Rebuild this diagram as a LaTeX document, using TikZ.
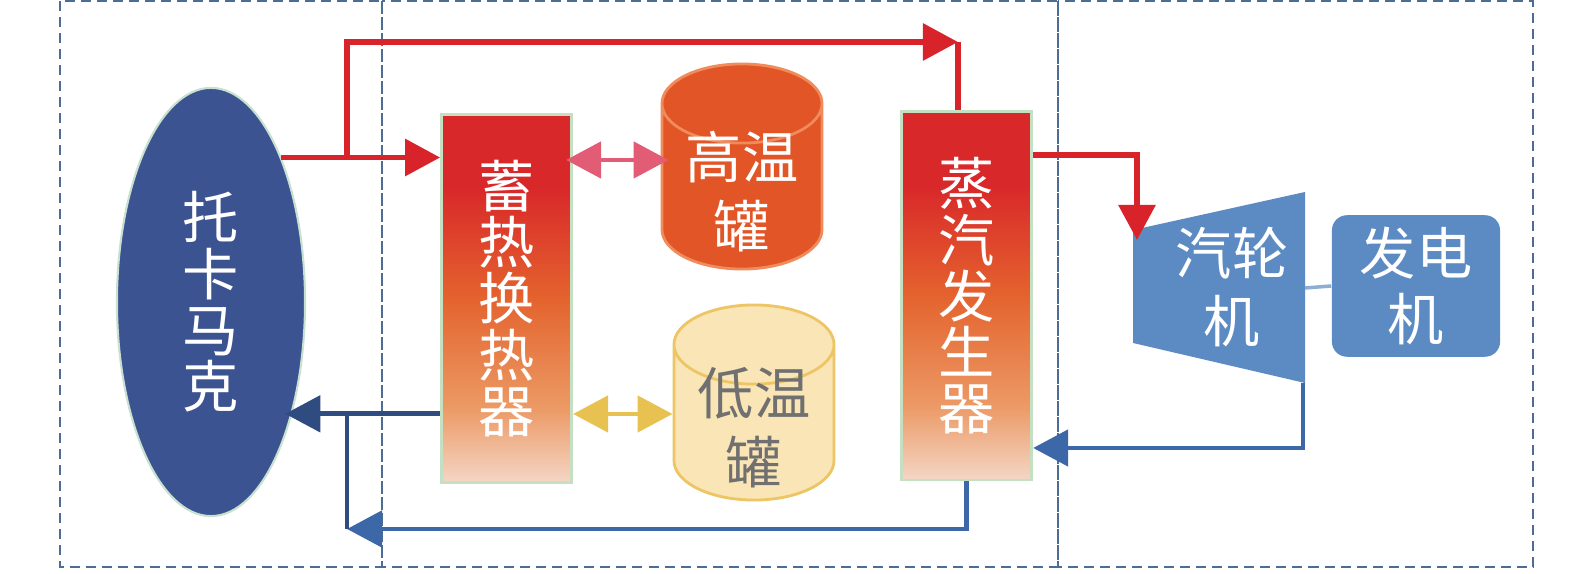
\documentclass[tikz,border=0pt]{standalone}
\usepackage{fontspec}
\setmainfont{Noto Sans CJK SC}
\usetikzlibrary{positioning,shapes.geometric,arrows.meta}
\definecolor{boxcol}{HTML}{4D6E94}
\definecolor{tokcol}{HTML}{3B5391}
\definecolor{tokedge}{HTML}{C8E0D0}
\definecolor{hotred}{HTML}{D8232A}
\definecolor{pinkcol}{HTML}{E35C75}
\definecolor{yellowcol}{HTML}{E8C250}
\definecolor{darkblue}{HTML}{2F4C80}
\definecolor{loopblue}{HTML}{3D68A8}
\definecolor{turbcol}{HTML}{5B8BC2}
\definecolor{hotfill}{HTML}{E25526}
\definecolor{hotedge}{HTML}{F08B5C}
\definecolor{coldfill}{HTML}{F9E5B5}
\definecolor{coldedge}{HTML}{EDC565}
\definecolor{coldtext}{HTML}{707070}
\definecolor{hxline}{HTML}{C5DFC2}
\definecolor{hxred}{HTML}{D9282A}
\definecolor{hxorange}{HTML}{E4632E}
\definecolor{hxpale}{HTML}{EC9A66}
\definecolor{hxlow}{HTML}{F4D6C6}
\pgfdeclareverticalshading{heatgrad}{100bp}{color(0bp)=(hxlow); color(25bp)=(hxlow); color(35bp)=(hxpale); color(50bp)=(hxorange); color(65bp)=(hxred); color(100bp)=(hxred)}

\begin{document}
\begin{tikzpicture}[x=0.01cm,y=-0.01cm,>={Triangle[length=0.35cm,width=0.36cm]},
  reactor/.style={ellipse,fill=tokcol,draw=tokedge,line width=0.6pt,minimum width=1.88cm,minimum height=4.28cm,inner sep=0pt,text=white,align=center,font=\fontsize{16}{16}\selectfont},
  exch/.style={rectangle,shading=heatgrad,draw=hxline,line width=0.8pt,minimum width=1.3cm,minimum height=3.68cm,inner sep=0pt,text=white,align=center,font=\fontsize{16}{16}\selectfont},
  tank/.style={cylinder,shape border rotate=90,aspect=0.7,text width=1.13cm,minimum width=1.6cm,inner sep=0pt,line width=0.8pt},
  tanktext/.style={align=center,yshift=-0.05cm,font=\fontsize{16}{19.6}\selectfont},
  genbox/.style={rectangle,rounded corners=0.15cm,fill=turbcol,minimum width=1.68cm,minimum height=1.23cm,text=white,align=center,font=\fontsize{16}{18.8}\selectfont},
  zone/.style={draw=boxcol,line width=0.75pt,dash pattern=on 0.1cm off 0.06cm},
  hotline/.style={draw=hotred,line width=1.7pt},
  coldline/.style={line width=1.4pt}]
\useasboundingbox (0,0) rectangle (1575,574);
%the dashed zones
\draw[zone] (60,1) rectangle (382,567);
\draw[zone] (382,1) rectangle (1058,567);
\draw[zone] (1058,1) rectangle (1533,567);
%the nodes of the loop
\node [reactor] (tok) at (211,302) {托\\卡\\马\\克};
\node [exch,right=1.34cm of tok,yshift=0.035cm] (hx) {蓄\\热\\换\\热\\器};
\node [exch,right=3.27cm of hx,yshift=0.025cm] (sg) {蒸\\汽\\发\\生\\器};
\node [tank,fill=hotfill,draw=hotedge,minimum height=2.05cm,label={[tanktext,text=white]center:高温\\罐}] (ht) at (742,187) {};
\node [tank,fill=coldfill,draw=coldedge,minimum height=1.95cm,label={[tanktext,text=coldtext]center:低温\\罐}] (lt) at (754,423) {};
\fill[turbcol] (1133,230) -- (1305,192) -- (1305,383) -- (1133,343) -- cycle;
\node [text=white,align=center,font=\fontsize{16}{19.3}\selectfont] (turb) at (1232,287) {汽轮\\机};
\node [genbox] (gen) at (1416,286) {发电\\机};
\coordinate (turbin) at (1137,240);
\coordinate (turbout) at (1303,383);
\coordinate (shaft) at (1305,288);
\coordinate (c1) at (1137,155);
\coordinate (c2) at (1303,448);
\coordinate (c3) at (961,529);
\coordinate (c4) at (347,529);
\coordinate (c5) at (347,42);
\coordinate (c6) at (958,42);
\coordinate (pinkrow) at (0,160);
\coordinate (yellowrow) at (0,414);
%drawings of lines for the loop
\draw[hotline,->] (tok.64) -- (tok.64 -| hx.west);

\draw[hotline,->] (tok.64 -| c5) -- (c5) -- (c6);

\draw[hotline] (c6) -- (c6 |- sg.north);

\draw[hotline,->] (sg.east |- c1) -- (c1) -- (turbin);

\draw[coldline,draw=darkblue,->,shorten >=-0.07cm] (tok.-54 -| hx.west) -- (tok.-54);

\draw[coldline,draw=loopblue,->] (sg.south) -- (sg.south |- c3) -- (c4);

\draw[coldline,draw=darkblue] (c4) -- (c4 |- tok.-54);

\draw[coldline,draw=loopblue,->] (turbout) -- (c2) -- (c2 -| sg.east);

\draw[line width=1.4pt,draw=pinkcol,<->,shorten <=-0.07cm,shorten >=-0.08cm] (hx.east |- pinkrow) -- (ht.west |- pinkrow);

\draw[line width=1.4pt,draw=yellowcol,<->] (hx.east |- yellowrow) -- (lt.west |- yellowrow);

\draw[line width=1pt,draw=turbcol!70] (shaft) -- (gen.west);

\end{tikzpicture}
\end{document}
